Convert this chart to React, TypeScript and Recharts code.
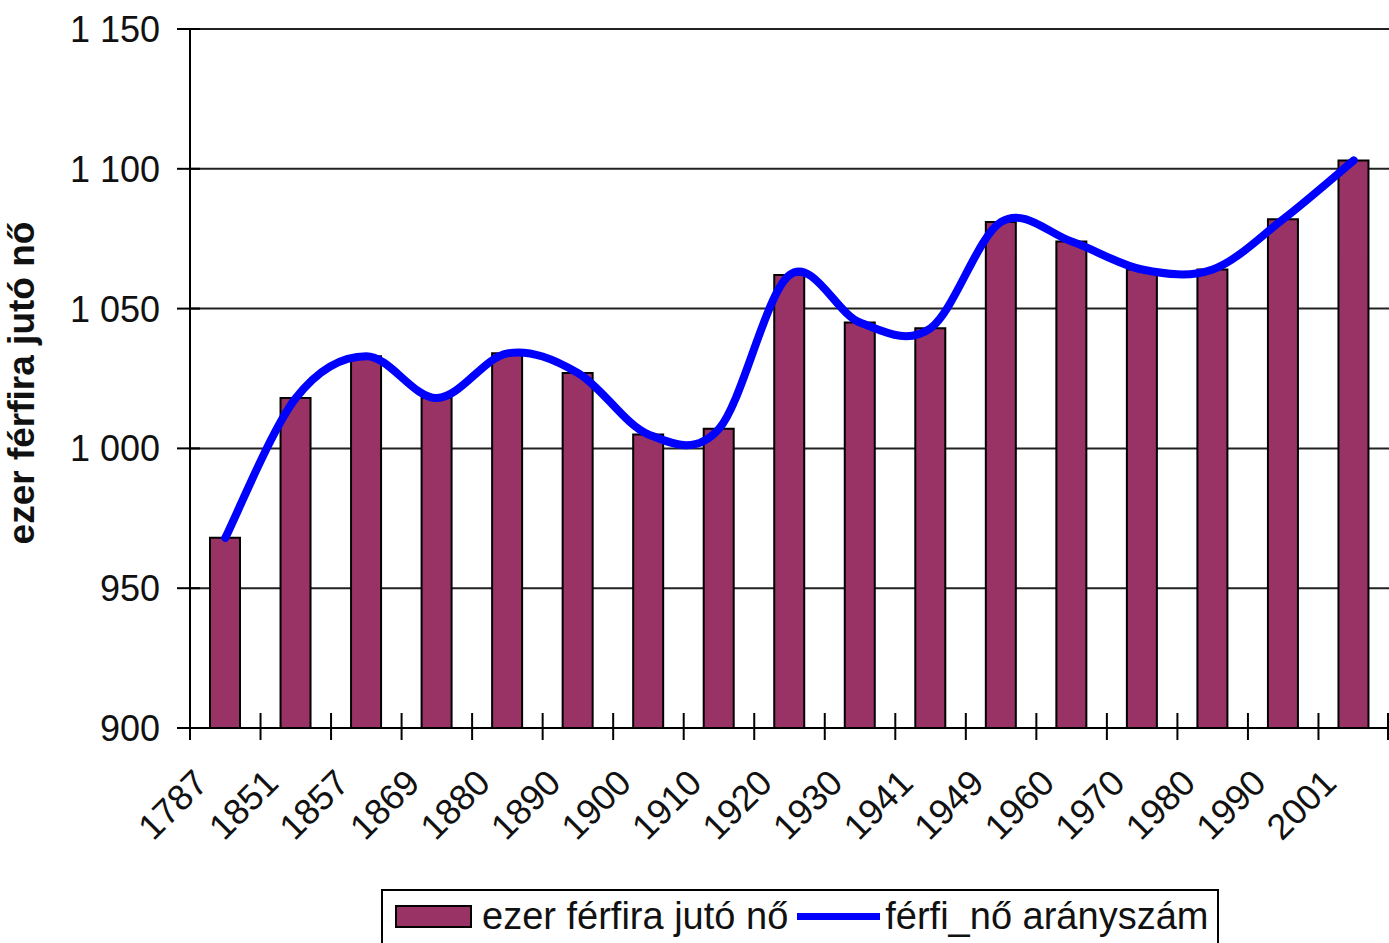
import React from "react";
import {
  ComposedChart,
  Bar,
  Line,
  XAxis,
  YAxis,
  CartesianGrid,
  Legend,
  Label,
} from "recharts";

const years = [
  "1787", "1851", "1857", "1869", "1880", "1890", "1900", "1910", "1920",
  "1930", "1941", "1949", "1960", "1970", "1980", "1990", "2001",
];

// ezer férfira jutó nő (bars)
const womenPerThousand = [
  968, 1018, 1033, 1018, 1034, 1027, 1005, 1007, 1062, 1045, 1043, 1081, 1074,
  1064, 1064, 1082, 1103,
];

// férfi_nő arányszám (smoothed line)
const ratio = [
  968, 1018, 1033, 1018, 1034, 1027, 1005, 1007, 1062, 1045, 1043, 1081, 1074,
  1064, 1064, 1082, 1103,
];

const yTicks = [900, 950, 1000, 1050, 1100, 1150];

const data = years.map((year, i) => ({
  year,
  women: womenPerThousand[i],
  ratio: ratio[i],
}));

const W = 1389;
const H = 943;
const PLOT_LEFT = 190;
const PLOT_TOP = 29;
const PLOT_BOTTOM = 728;
const HALF_BAND = (W - PLOT_LEFT) / years.length / 2;
const FONT = "'Liberation Sans', Arial, sans-serif";

// Excel-like smoothing (Catmull-Rom as cubic beziers)
const excelSmooth = (context: any) => {
  let pts: number[][] = [];
  return {
    areaStart() {},
    areaEnd() {},
    lineStart() {
      pts = [];
    },
    point(x: number, y: number) {
      pts.push([+x, +y]);
    },
    lineEnd() {
      if (!pts.length) return;
      context.moveTo(pts[0][0], pts[0][1]);
      for (let i = 0; i < pts.length - 1; i++) {
        const p0 = pts[i - 1] || pts[i];
        const p1 = pts[i];
        const p2 = pts[i + 1];
        const p3 = pts[i + 2] || p2;
        context.bezierCurveTo(
          p1[0] + (p2[0] - p0[0]) / 6,
          p1[1] + (p2[1] - p0[1]) / 6,
          p2[0] - (p3[0] - p1[0]) / 6,
          p2[1] - (p3[1] - p1[1]) / 6,
          p2[0],
          p2[1]
        );
      }
    },
  };
};

const fmt = (v: number) =>
  v >= 1000 ? `${Math.floor(v / 1000)} ${String(v % 1000).padStart(3, "0")}` : `${v}`;

const YTick = (props: any) => {
  const { y, payload } = props;
  return (
    <g>
      <line x1={PLOT_LEFT - 13} y1={y} x2={PLOT_LEFT + 10} y2={y} stroke="#000" strokeWidth={2} />
      <text
        x={PLOT_LEFT - 30}
        y={y}
        dy="0.36em"
        textAnchor="end"
        fontSize={36}
        fontFamily={FONT}
        fill="#111"
      >
        {fmt(payload.value)}
      </text>
    </g>
  );
};

const XTick = (props: any) => {
  const { x, payload, index } = props;
  const tx = x - HALF_BAND;
  const ax = tx + 20;
  const ay = PLOT_BOTTOM + 57;
  return (
    <g>
      <line x1={tx} y1={PLOT_BOTTOM - 15} x2={tx} y2={PLOT_BOTTOM + 12} stroke="#000" strokeWidth={2} />
      {index === years.length - 1 && (
        <line
          x1={x + HALF_BAND - 1}
          y1={PLOT_BOTTOM - 15}
          x2={x + HALF_BAND - 1}
          y2={PLOT_BOTTOM + 12}
          stroke="#000"
          strokeWidth={2}
        />
      )}
      <text
        x={ax}
        y={ay}
        transform={`rotate(-45 ${ax} ${ay})`}
        textAnchor="end"
        fontSize={36}
        fontFamily={FONT}
        fill="#111"
      >
        {payload.value}
      </text>
    </g>
  );
};

const LegendBox = () => (
  <div
    style={{
      width: 838,
      height: 60,
      boxSizing: "border-box",
      border: "2px solid #000",
      background: "#fff",
      display: "flex",
      alignItems: "center",
      paddingLeft: 12,
      paddingBottom: 6,
      fontFamily: FONT,
      fontSize: 38,
      color: "#111",
      whiteSpace: "nowrap",
    }}
  >
    <span
      style={{
        display: "inline-block",
        width: 77,
        height: 23,
        boxSizing: "border-box",
        background: "#993366",
        border: "2px solid #000",
        marginRight: 10,
      }}
    />
    <span>ezer férfira jutó nő</span>
    <span
      style={{
        display: "inline-block",
        width: 83,
        height: 7,
        background: "#0000ff",
        marginLeft: 9,
        marginRight: 5,
      }}
    />
    <span>férfi_nő arányszám</span>
  </div>
);

export default function App() {
  return (
    <div
      style={{
        position: "absolute",
        left: 0,
        top: 0,
        width: W,
        height: H,
        overflow: "hidden",
        background: "#fff",
      }}
    >
      <ComposedChart
        width={W}
        height={H}
        data={data}
        margin={{ top: PLOT_TOP, right: 0, bottom: H - PLOT_BOTTOM - 100, left: 0 }}
      >
        <CartesianGrid vertical={false} stroke="#222" strokeWidth={2} />
        <XAxis
          dataKey="year"
          height={100}
          axisLine={{ stroke: "#000", strokeWidth: 2 }}
          tickLine={false}
          tickSize={0}
          interval={0}
          tick={<XTick />}
        />
        <YAxis
          width={PLOT_LEFT}
          domain={[900, 1150]}
          ticks={yTicks}
          allowDataOverflow
          axisLine={{ stroke: "#000", strokeWidth: 2 }}
          tickLine={false}
          tick={<YTick />}
        >
          <Label
            content={() => (
              <text
                x={34}
                y={383}
                transform="rotate(-90 34 383)"
                textAnchor="middle"
                fontSize={37}
                fontWeight="bold"
                fontFamily={FONT}
                fill="#111"
              >
                ezer férfira jutó nő
              </text>
            )}
          />
        </YAxis>
        <Legend
          layout="horizontal"
          align="center"
          verticalAlign="middle"
          wrapperStyle={{ top: 889, left: 381, width: 838 }}
          content={() => <LegendBox />}
        />
        <Bar
          dataKey="women"
          fill="#993366"
          stroke="#000"
          strokeWidth={2}
          barSize={30}
          isAnimationActive={false}
        />
        <Line
          dataKey="ratio"
          type={excelSmooth as any}
          stroke="#0000ff"
          strokeWidth={8}
          strokeLinecap="round"
          dot={false}
          activeDot={false}
          isAnimationActive={false}
        />
      </ComposedChart>
    </div>
  );
}
